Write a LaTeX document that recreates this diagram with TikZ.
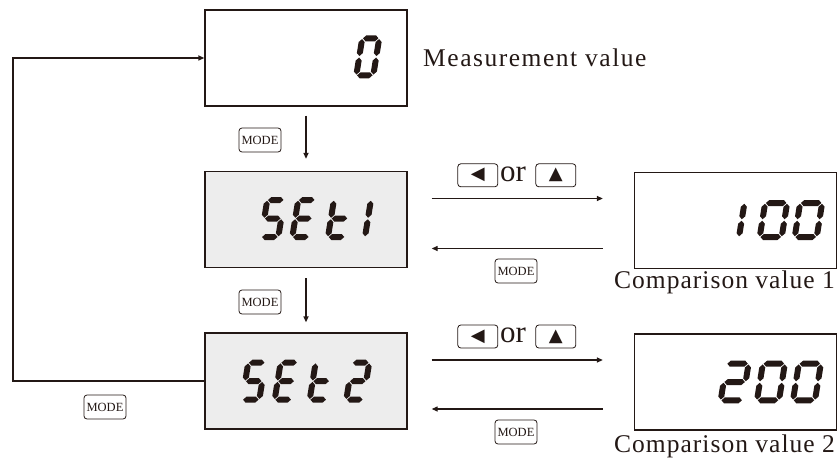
\documentclass[tikz,border=0pt]{standalone}
\usepackage{fontspec}
\setmainfont{Liberation Serif}
\newfontfamily\symf{DejaVu Sans}
\newfontfamily\lblf[LetterSpace=4]{Liberation Serif}
\newfontfamily\lblfw[LetterSpace=6]{Liberation Serif}
\usetikzlibrary{arrows.meta}
\definecolor{ink}{HTML}{231815}
\definecolor{lcd}{HTML}{EDEDED}
% seven-segment helpers
\def\SW{17}\def\SH{38}\def\ST{3}\def\SG{0.75}
\newcommand\hseg[1]{\fill[ink] (\SG,#1) -- ({\SG+\ST},{#1+\ST}) -- ({\SW-\SG-\ST},{#1+\ST}) -- ({\SW-\SG},#1) -- ({\SW-\SG-\ST},{#1-\ST}) -- ({\SG+\ST},{#1-\ST}) -- cycle;}
\newcommand\vseg[3]{\fill[ink] (#1,{#2+\SG}) -- ({#1+\ST},{#2+\SG+\ST}) -- ({#1+\ST},{#3-\SG-\ST}) -- (#1,{#3-\SG}) -- ({#1-\ST},{#3-\SG-\ST}) -- ({#1-\ST},{#2+\SG+\ST}) -- cycle;}
\newcommand\SSa{\hseg{\SH}}
\newcommand\SSg{\hseg{0.5*\SH}}
\newcommand\SSd{\hseg{0}}
\newcommand\SSb{\vseg{\SW}{0.5*\SH}{\SH}}
\newcommand\SSc{\vseg{\SW}{0}{0.5*\SH}}
\newcommand\SSe{\vseg{0}{0}{0.5*\SH}}
\newcommand\SSf{\vseg{0}{0.5*\SH}{\SH}}
\newcommand\dig[5]{\begin{scope}[shift={(#1,#2)},xslant=0.16,yscale=-1]\def\SW{#3}\def\SH{#4}\foreach \s in {#5}{\csname SS\s\endcsname}\end{scope}}
\begin{document}
\begin{tikzpicture}[x=1pt,y=-1pt,
  disp/.style={draw=ink, line width=1.3pt, minimum width=202, minimum height=96, inner sep=0},
  lbl/.style={inner sep=0, text=ink, font=\lblf\fontsize{25.5}{28}\selectfont},
  lblw/.style={inner sep=0, text=ink, font=\lblfw\fontsize{25.5}{28}\selectfont},
  key/.style={draw=ink, line width=0.8pt, rounded corners=3pt, minimum width=40, minimum height=23, inner sep=0, text=ink, font=\symf\fontsize{18}{18}\selectfont},
  mkey/.style={draw=ink, line width=0.8pt, rounded corners=3pt, minimum width=42, minimum height=24, inner sep=0, text=ink, font=\fontsize{12.5}{13}\selectfont},
  ortext/.style={inner sep=0, text=ink, font=\fontsize{31}{32}\selectfont},
  thickline/.style={draw=ink, line width=2pt},
  thinline/.style={draw=ink, line width=1.2pt},
  arr/.style={-{Triangle[length=6pt,width=5pt]}}]
\useasboundingbox (0,0) rectangle (840,468);
% displays
\node[disp] (m) at (306,58) {};
\node[disp,fill=lcd] (s1) at (306,219.5) {};
\node[disp,fill=lcd] (s2) at (306,381) {};
\node[disp] (c1) at (735.5,220.5) {};
\node[disp] (c2) at (735.5,382) {};
% display contents
\dig{356.3}{75.3}{17}{37}{a,b,c,d,e,f}
\dig{261.3}{237}{17}{37}{a,f,g,c,d}
\dig{292.3}{237}{17}{37}{a,f,g,e,d}
\dig{328}{237}{17}{37}{f,g,e,d}
\dig{348}{237}{17}{37}{b,c}
\dig{242.3}{399.7}{17}{37}{a,f,g,c,d}
\dig{274.7}{399.7}{17}{37}{a,f,g,e,d}
\dig{309.7}{399.7}{17}{37}{f,g,e,d}
\dig{346.3}{399.7}{17}{37}{a,b,g,e,d}
\dig{717}{237}{22}{34}{b,c}
\dig{759.7}{237}{22}{34}{a,b,c,d,e,f}
\dig{794.7}{237}{22}{34}{a,b,c,d,e,f}
\dig{720.7}{400.3}{22}{36.6}{a,b,g,e,d}
\dig{757}{400.3}{22}{36.6}{a,b,c,d,e,f}
\dig{793}{400.3}{22}{36.6}{a,b,c,d,e,f}
% labels
\node[lblw,anchor=base west] (lm) at (423,67) {Measurement value};
\node[lbl,anchor=base west] (lc1) at (614,288.5) {Comparison value 1};
\node[lbl,anchor=base west] (lc2) at (614,452.7) {Comparison value 2};
% connectors
\coordinate (lc) at (13,381);
\draw[thickline,arr] (s2.west) -- (lc) |- (m.west);
\draw[thickline,arr,shorten <=9pt,shorten >=12pt] (m.south) -- (s1.north);
\draw[thickline,arr,shorten <=10pt,shorten >=10pt] (s1.south) -- (s2.north);
\draw[thinline,arr,shorten <=24pt,shorten >=31pt] ([yshift=21pt]s1.east) -- ([yshift=21pt]s1.east -| c1.west);
\draw[thinline,arr,shorten <=31pt,shorten >=24pt] ([yshift=-29pt]s1.east -| c1.west) -- ([yshift=-29pt]s1.east);
\draw[thinline,arr,shorten <=24pt,shorten >=31pt] ([yshift=21pt]s2.east) -- ([yshift=21pt]s2.east -| c2.west);
\draw[thinline,arr,shorten <=31pt,shorten >=24pt] ([yshift=-28pt]s2.east -| c2.west) -- ([yshift=-28pt]s2.east);
% keys
\node[key] (l1) at (477.8,175.3) {◀};
\node[ortext,anchor=base west] (o1) at (500,181) {or};
\node[key] (u1) at (555.8,175.3) {▲};
\node[key] (l2) at (477.8,336.5) {◀};
\node[ortext,anchor=base west] (o2) at (500,342) {or};
\node[key] (u2) at (555.8,336.5) {▲};
\node[mkey] (mk1) at (260,140) {MODE};
\node[mkey] (mk2) at (260,302) {MODE};
\node[mkey] (mk3) at (105,407) {MODE};
\node[mkey] (mk4) at (516,271) {MODE};
\node[mkey] (mk5) at (516,432) {MODE};
\end{tikzpicture}
\end{document}
